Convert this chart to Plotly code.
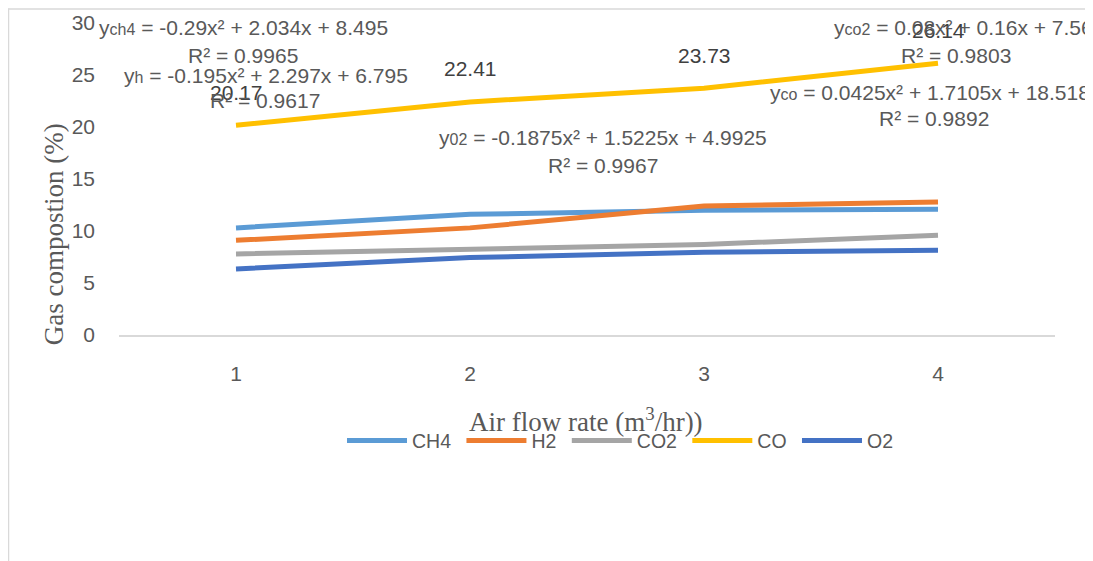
import plotly.graph_objects as go

x_vals = [1, 2, 3, 4]
ch4 = [10.3, 11.6, 12.0, 12.1]
h2 = [9.1, 10.3, 12.4, 12.8]
co2 = [7.8, 8.3, 8.7, 9.6]
co = [20.17, 22.41, 23.73, 26.14]
o2 = [6.35, 7.45, 7.95, 8.15]

series_names = ["CH4", "H2", "CO2", "CO", "O2"]
series_vals = [ch4, h2, co2, co, o2]
colors = ["#5B9BD5", "#ED7D31", "#A5A5A5", "#FFC000", "#4472C4"]

co_labels = ["20.17", "22.41", "23.73", "26.14"]

OFF = 8  # page body margin
W, H = 1093 - OFF, 561 - OFF
L = 119 - OFF
T = 22.5 - OFF
R = W - (1055 - OFF)
B = H - (335 - OFF)
pw, ph = W - L - R, H - T - B


def px(xr):
    return (xr - OFF - L) / pw


def py(yr):
    return (H - B - (yr - OFF)) / ph


fig = go.Figure()
for name, vals, c in zip(series_names, series_vals, colors):
    fig.add_trace(go.Scatter(x=x_vals, y=vals, mode="lines", name=name + "\u00a0",
                             line=dict(color=c, width=5)))

ann = []
for xv, yv, t in zip(x_vals, co, co_labels):
    ann.append(dict(x=xv, y=yv, xref="x", yref="y", text=t, showarrow=False,
                    yshift=33, font=dict(size=21, color="#404040",
                                         family="Liberation Sans")))

sm = lambda s: f"<span style='font-size:16px'>{s}</span>"
eqs = [
    ("y" + sm("ch4") + " = -0.29x² + 2.034x + 8.495", 97, 27, "left"),
    ("R² = 0.9965", 243, 55, "center"),
    ("y" + sm("h") + " = -0.195x² + 2.297x + 6.795", 122, 75, "left"),
    ("R² = 0.9617", 265, 100, "center"),
    ("y" + sm("co2") + " = 0.08x² + 0.16x + 7.56", 832, 27, "left"),
    ("R² = 0.9803", 956, 55, "center"),
    ("y" + sm("co") + " = 0.0425x² + 1.7105x + 18.518", 768, 92, "left"),
    ("R² = 0.9892", 934, 118, "center"),
    ("y" + sm("02") + " = -0.1875x² + 1.5225x + 4.9925", 603, 137, "center"),
    ("R² = 0.9967", 603, 165, "center"),
]
for t, xr, yr, anc in eqs:
    ann.append(dict(x=px(xr), y=py(yr), xref="paper", yref="paper", text=t,
                    showarrow=False, xanchor=anc, yanchor="middle",
                    font=dict(size=21, color="#595959", family="Liberation Sans")))

ann.append(dict(x=px(54), y=py(234), xref="paper", yref="paper",
                text="Gas compostion (%)", textangle=-90, showarrow=False,
                xanchor="center", yanchor="middle",
                font=dict(size=27, color="#595959", family="Liberation Serif")))
ann.append(dict(x=px(586), y=py(420), xref="paper", yref="paper",
                text="Air flow rate (m<sup>3</sup>/hr))", showarrow=False,
                xanchor="center", yanchor="middle",
                font=dict(size=27, color="#595959", family="Liberation Serif")))

shapes = [
    dict(type="line", xref="paper", yref="paper", x0=px(8), x1=px(1200),
         y0=py(8.5), y1=py(8.5), line=dict(color="#D9D9D9", width=1.5)),
    dict(type="line", xref="paper", yref="paper", x0=px(8.5), x1=px(8.5),
         y0=py(8), y1=py(700), line=dict(color="#D9D9D9", width=1.5)),
]

fig.update_layout(
    width=W, height=H,
    margin=dict(l=L, r=R, t=T, b=B, autoexpand=False),
    paper_bgcolor="white", plot_bgcolor="white",
    showlegend=True,
    legend=dict(orientation="h", x=px(342), y=py(441), xanchor="left",
                yanchor="middle", itemwidth=60,
                font=dict(size=19.5, color="#595959", family="Liberation Sans"),
                bgcolor="rgba(0,0,0,0)"),
    annotations=ann,
    shapes=shapes,
    xaxis=dict(range=[0.5, 4.5], tickvals=x_vals, ticktext=[str(v) for v in x_vals],
               showgrid=False, zeroline=False, showline=True,
               linecolor="#D9D9D9", linewidth=1.5, ticks="",
               ticklabelstandoff=19,
               tickfont=dict(size=21, color="#595959", family="Liberation Sans")),
    yaxis=dict(range=[0, 30], tickvals=[0, 5, 10, 15, 20, 25, 30],
               showgrid=False, zeroline=False, showline=False, ticks="",
               ticklabelstandoff=23,
               tickfont=dict(size=21, color="#595959", family="Liberation Sans")),
)

fig.write_html("out.html")
